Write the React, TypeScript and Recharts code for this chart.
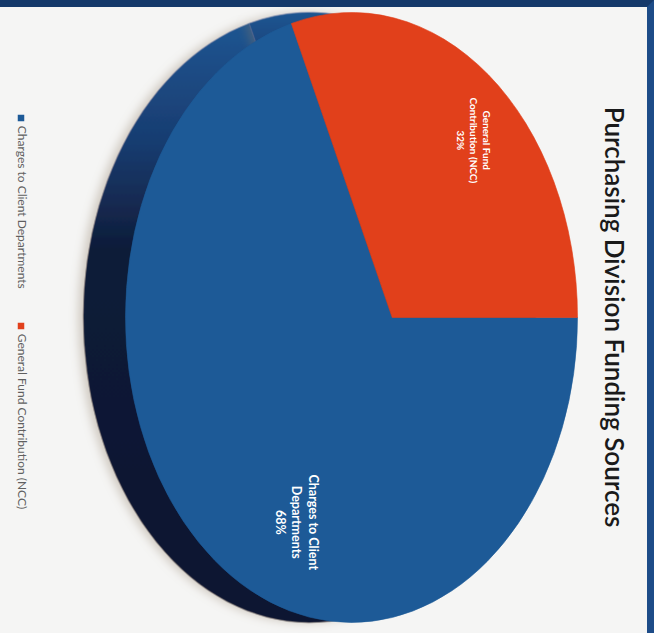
import { Cell, Legend, Pie, PieChart } from "recharts";

const categories = ["Charges to Client Departments", "General Fund Contribution (NCC)"];
const labelLines = [
  ["Charges to Client", "Departments"],
  ["General Fund", "Contribution (NCC)"],
];
const shares = [68, 32];
const faceColors = ["#1d5a97", "#e1401b"];
const legendColors = ["#2a5f9e", "#c83c1e"];

const data = categories.map((name, i) => ({ name, value: shares[i] }));

// chart is drawn upright, then the whole thing is turned 90deg like the scan
const W = 633;
const H = 654;
const CX = 317;
const CY = 303;
const RX = 305;
const SQUASH = 226 / 305;
const TILT = 0.18;
const DEPTH = 42;

// perspective projection of a point on the pie disc (r in 0..1)
const project = (cx: number, cy: number, rx: number, angle: number, r: number) => {
  const a = (angle * Math.PI) / 180;
  const p = r * Math.cos(a);
  const q = r * Math.sin(a);
  const w = 1 + TILT * q;
  const xn = (Math.sqrt(1 - TILT * TILT) * p) / w;
  const yn = (q + TILT) / w;
  return [cx + rx * xn, cy - rx * SQUASH * yn];
};

const paramAngle = (cx: number, cy: number, rx: number, x: number, y: number) => {
  const t = (Math.atan2((cy - y) / (rx * SQUASH), (x - cx) / rx) * 180) / Math.PI;
  return (t + 360) % 360;
};

const EllipseSector = (props: any) => {
  const { cx, cy, outerRadius, startAngle, endAngle, fill, filter } = props;
  const ry = outerRadius * SQUASH;
  const [vx, vy] = project(cx, cy, outerRadius, 0, 0);
  const [sx, sy] = project(cx, cy, outerRadius, startAngle, 1);
  const [ex, ey] = project(cx, cy, outerRadius, endAngle, 1);
  const ts = paramAngle(cx, cy, outerRadius, sx, sy);
  const te = paramAngle(cx, cy, outerRadius, ex, ey);
  const span = (((te - ts) % 360) + 360) % 360;
  const large = span > 180 ? 1 : 0;
  const d = `M${vx},${vy}L${sx},${sy}A${outerRadius},${ry} 0 ${large} 0 ${ex},${ey}Z`;
  return <path d={d} fill={fill} stroke={fill} strokeWidth={0.6} filter={filter} />;
};

const SideSector = (props: any) => <EllipseSector {...props} filter="url(#glow)" />;

const renderLabel = (props: any) => {
  const { cx, cy, outerRadius, midAngle, index } = props;
  const [x, y] = project(cx, cy, outerRadius, midAngle, 0.75);
  const lines = [...labelLines[index], `${shares[index]}%`];
  const size = index === 0 ? 12.5 : 10;
  const lh = size * 1.3;
  return (
    <text
      x={x}
      y={y - ((lines.length - 1) * lh) / 2}
      fill="#ffffff"
      fontFamily="Lato"
      fontWeight={700}
      fontSize={size}
      textAnchor="middle"
      dominantBaseline="central"
    >
      {lines.map((line, i) => (
        <tspan key={line} x={x} dy={i === 0 ? 0 : lh}>
          {line}
        </tspan>
      ))}
    </text>
  );
};

export default function App() {
  return (
    <div
      style={{
        position: "absolute",
        left: 0,
        top: 0,
        width: 654,
        height: 633,
        boxSizing: "border-box",
        background: "#f5f5f4",
        borderTop: "7px solid #15396a",
        borderRight: "7px solid #1d4c88",
        overflow: "hidden",
      }}
    >
      <div
        style={{
          position: "absolute",
          left: 327 - W / 2,
          top: 316.5 - H / 2 - 7,
          width: W,
          height: H,
          transform: "rotate(90deg)",
          transformOrigin: "center",
        }}
      >
        <div
          style={{
            position: "absolute",
            left: 0,
            top: 27,
            width: W,
            textAlign: "center",
            fontFamily: "Lato",
            fontWeight: 600,
            fontSize: 26,
            lineHeight: "26px",
            color: "#1a1a1a",
          }}
        >
          Purchasing Division Funding Sources
        </div>
        <PieChart width={W} height={H} margin={{ top: 0, right: 0, bottom: 0, left: 0 }}>
          <defs>
            <linearGradient id="sideBlue" x1="0" y1="0" x2="1" y2="0">
              <stop offset="0" stopColor="#1f5591" />
              <stop offset="0.2" stopColor="#183c70" />
              <stop offset="0.38" stopColor="#0f1b38" />
              <stop offset="1" stopColor="#0d1630" />
            </linearGradient>
            <filter id="glow" x="-10%" y="-10%" width="120%" height="130%">
              <feDropShadow dx="0" dy="5" stdDeviation="5" floodColor="#8a7a62" floodOpacity="0.35" />
            </filter>
          </defs>
          <Pie
            data={data}
            dataKey="value"
            nameKey="name"
            cx={CX}
            cy={CY + DEPTH}
            outerRadius={RX}
            startAngle={205.2}
            endAngle={565.2}
            shape={SideSector}
            activeShape={SideSector}
            legendType="none"
            isAnimationActive={false}
          >
            {data.map((d) => (
              <Cell key={d.name} fill="url(#sideBlue)" />
            ))}
          </Pie>
          <Pie
            data={data}
            dataKey="value"
            nameKey="name"
            cx={CX}
            cy={CY}
            outerRadius={RX}
            startAngle={205.2}
            endAngle={565.2}
            shape={EllipseSector}
            activeShape={EllipseSector}
            label={renderLabel}
            labelLine={false}
            isAnimationActive={false}
          >
            {data.map((d, i) => (
              <Cell key={d.name} fill={faceColors[i]} />
            ))}
          </Pie>
          <Legend
            verticalAlign="bottom"
            iconType="square"
            iconSize={7}
            wrapperStyle={{ bottom: 14, fontFamily: "Lato", fontSize: 12 }}
            payload={categories.map((name, i) => ({
              value: name,
              type: "square",
              color: legendColors[i],
            }))}
            formatter={(value: string) => (
              <span
                style={{
                  color: "#5f5f5f",
                  display: "inline-block",
                  marginRight: value === categories[0] ? 24 : 0,
                }}
              >
                {value}
              </span>
            )}
          />
        </PieChart>
      </div>
    </div>
  );
}
